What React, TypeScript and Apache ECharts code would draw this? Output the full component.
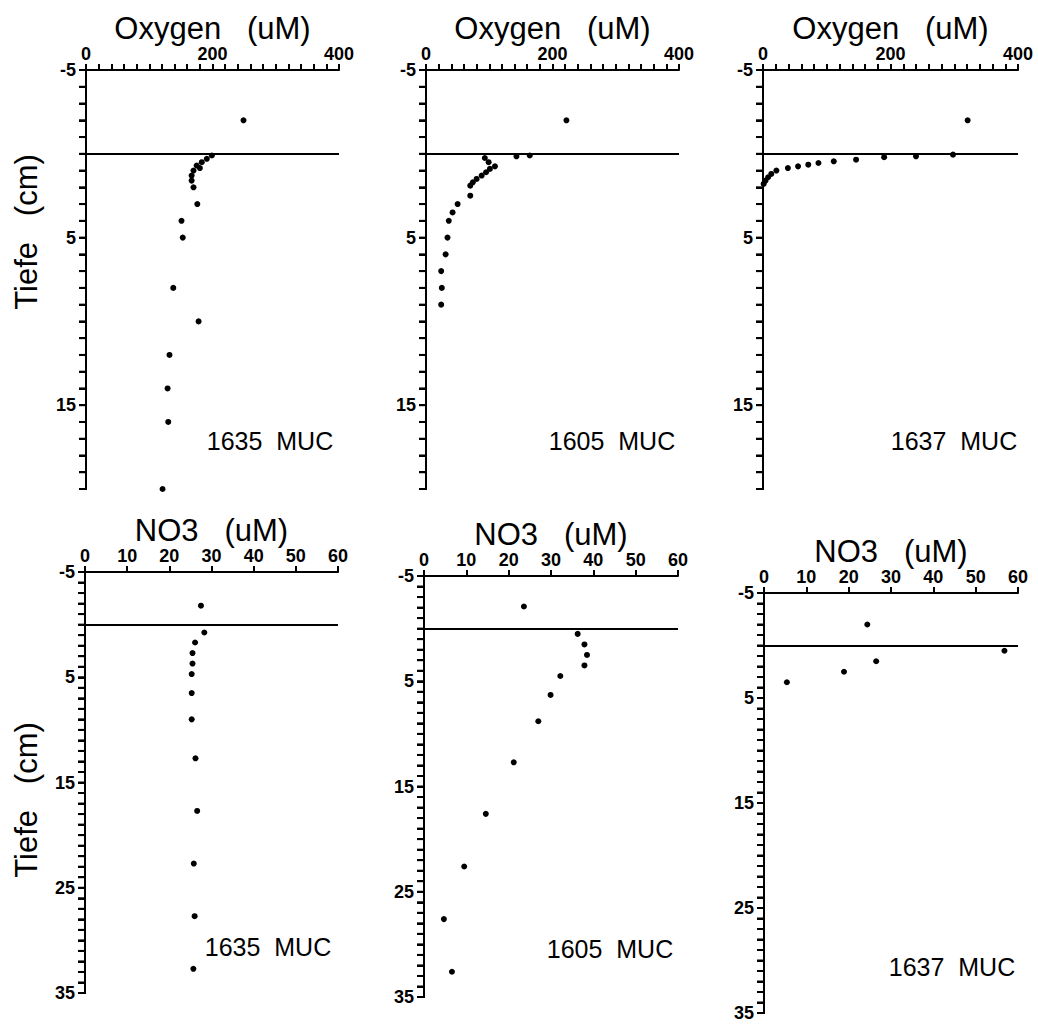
import React, { useEffect, useRef } from 'react';
import * as echarts from 'echarts';

// ---------- data ----------
// Oxygen profiles (uM) vs depth (cm)
const o2Depth1635 = [-2, 0.1, 0.3, 0.5, 0.7, 0.85, 1.0, 1.3, 1.6, 2.0, 3.0, 4.0, 5.0, 8.0, 10.0, 12.0, 14.0, 16.0, 20.0];
const o2Value1635 = [249, 199, 191, 183, 175, 180, 170, 167, 167, 170, 176, 151, 153, 138, 178, 132, 129, 130, 121];

const o2Depth1605 = [-2, 0.1, 0.15, 0.25, 0.5, 0.75, 0.9, 1.1, 1.3, 1.5, 1.7, 1.9, 2.5, 3.0, 3.5, 4.0, 5.0, 6.0, 7.0, 8.0, 9.0];
const o2Value1605 = [222, 164, 143, 93, 99, 109, 101, 95, 88, 80, 74, 70, 70, 50, 42, 36, 34, 31, 24, 25, 24];

const o2Depth1637 = [-2, 0.05, 0.15, 0.2, 0.35, 0.45, 0.55, 0.65, 0.75, 0.85, 1.0, 1.2, 1.4, 1.6, 1.8];
const o2Value1637 = [321, 298, 240, 190, 146, 111, 87, 71, 55, 39, 21, 13, 8, 4, 1];

// Nitrate profiles (uM) vs depth (cm)
const no3Depth1635 = [-1.8, 0.75, 1.7, 2.7, 3.7, 4.7, 6.5, 9.0, 12.7, 17.7, 22.7, 27.7, 32.7];
const no3Value1635 = [27.5, 28.3, 26.1, 25.5, 25.5, 25.3, 25.3, 25.3, 26.2, 26.6, 25.8, 26.0, 25.7];

const no3Depth1605 = [-2.1, 0.5, 1.5, 2.5, 3.5, 4.5, 6.3, 8.8, 12.7, 17.6, 22.6, 27.6, 32.6];
const no3Value1605 = [23.6, 36.3, 37.9, 38.5, 37.9, 32.2, 29.9, 27.0, 21.2, 14.6, 9.5, 4.7, 6.6];

const no3Depth1637 = [-2, 0.5, 1.5, 2.5, 3.5];
const no3Value1637 = [24.4, 56.8, 26.5, 18.9, 5.4];

// tick labels
const o2TickLabels = [0, 200, 400];
const no3TickLabels = [0, 10, 20, 30, 40, 50, 60];
const depthTickLabelsTop = [-5, 5, 15];
const depthTickLabelsBottom = [-5, 5, 15, 25, 35];
const depthTickStep = 1; // one depth tick per cm

const stations = ['1635  MUC', '1605  MUC', '1637  MUC'];
const o2Title = 'Oxygen   (uM)';
const no3Title = 'NO3   (uM)';
const depthTitle = 'Tiefe   (cm)';
const interfaceDepth = 0;

// ---------- layout ----------
const FONT = "'Liberation Sans', Arial, Helvetica, sans-serif";
const TICK_LEN = 7;

const grids = [
  { left: 86, top: 70, width: 253, height: 419 },
  { left: 426, top: 70, width: 253, height: 419 },
  { left: 763, top: 70, width: 255, height: 419 },
  { left: 85, top: 572, width: 253, height: 421 },
  { left: 424, top: 576, width: 254, height: 421 },
  { left: 764, top: 593, width: 254, height: 420 },
];

const stationLabelPos = [
  [270, 441], [612, 441], [954, 441],
  [268, 947], [610, 949], [952, 967],
];

const depthTitlePos = [[26, 232], [26, 800]];

type Panel = {
  title: string;
  xMax: number;
  xStep: number;
  xLabels: number[];
  yMax: number;
  yLabels: number[];
  depth: number[];
  values: number[];
  station: string;
};

const panels: Panel[] = [
  { title: o2Title, xMax: 400, xStep: 20, xLabels: o2TickLabels, yMax: 20, yLabels: depthTickLabelsTop, depth: o2Depth1635, values: o2Value1635, station: stations[0] },
  { title: o2Title, xMax: 400, xStep: 20, xLabels: o2TickLabels, yMax: 20, yLabels: depthTickLabelsTop, depth: o2Depth1605, values: o2Value1605, station: stations[1] },
  { title: o2Title, xMax: 400, xStep: 20, xLabels: o2TickLabels, yMax: 20, yLabels: depthTickLabelsTop, depth: o2Depth1637, values: o2Value1637, station: stations[2] },
  { title: no3Title, xMax: 60, xStep: 10, xLabels: no3TickLabels, yMax: 35, yLabels: depthTickLabelsBottom, depth: no3Depth1635, values: no3Value1635, station: stations[0] },
  { title: no3Title, xMax: 60, xStep: 10, xLabels: no3TickLabels, yMax: 35, yLabels: depthTickLabelsBottom, depth: no3Depth1605, values: no3Value1605, station: stations[1] },
  { title: no3Title, xMax: 60, xStep: 10, xLabels: no3TickLabels, yMax: 35, yLabels: depthTickLabelsBottom, depth: no3Depth1637, values: no3Value1637, station: stations[2] },
];

// depth is plotted downward: the y axis holds -depth
const toAxis = (d: number) => (d === 0 ? 0 : -d);

const black = '#000';

function textGraphics() {
  return [
    ...panels.map((p, i) => ({
      type: 'text',
      x: stationLabelPos[i][0],
      y: stationLabelPos[i][1],
      style: {
        text: p.station,
        fontSize: 25,
        fontFamily: FONT,
        fill: black,
        textAlign: 'center',
        textVerticalAlign: 'middle',
      },
    })),
    ...depthTitlePos.map((pos) => ({
      type: 'text',
      x: pos[0],
      y: pos[1],
      rotation: Math.PI / 2,
      style: {
        text: depthTitle,
        fontSize: 31,
        fontFamily: FONT,
        fill: black,
        textAlign: 'center',
        textVerticalAlign: 'middle',
      },
    })),
  ];
}

function buildOption() {
  const tickStyle = { color: black, width: 2 };
  return {
    animation: false,
    backgroundColor: '#ffffff',
    grid: grids.map((g) => ({ ...g, containLabel: false, outerBoundsMode: 'none', show: false })),
    xAxis: panels.map((p, i) => ({
      gridIndex: i,
      type: 'value',
      position: 'top',
      min: 0,
      max: p.xMax,
      interval: p.xStep,
      name: p.title,
      nameLocation: 'middle',
      nameGap: 26,
      nameTextStyle: { fontSize: 31, fontFamily: FONT, color: black },
      axisLine: { show: true, onZero: false, lineStyle: { color: black, width: 2 } },
      axisTick: { show: true, inside: false, length: 6, lineStyle: tickStyle },
      axisLabel: {
        show: true,
        margin: 7,
        fontSize: 18,
        fontWeight: 'bold',
        fontFamily: FONT,
        color: black,
        formatter: (v: number) => (p.xLabels.indexOf(v) >= 0 ? String(v) : ''),
      },
      splitLine: { show: false },
    })),
    yAxis: panels.map((p, i) => ({
      gridIndex: i,
      type: 'value',
      position: 'left',
      min: -p.yMax,
      max: 5,
      interval: 5,
      axisLine: { show: true, onZero: false, lineStyle: { color: black, width: 2 } },
      axisTick: { show: true, inside: false, length: TICK_LEN, lineStyle: tickStyle },
      minorTick: { show: true, splitNumber: 5, length: TICK_LEN, lineStyle: tickStyle },
      axisLabel: {
        show: true,
        margin: 10,
        fontSize: 18,
        fontWeight: 'bold',
        fontFamily: FONT,
        color: black,
        formatter: (v: number) => {
          const d = toAxis(v);
          return p.yLabels.indexOf(d) >= 0 ? String(d) : '';
        },
      },
      splitLine: { show: false },
      minorSplitLine: { show: false },
    })),
    series: panels.map((p, i) => ({
      type: 'scatter',
      xAxisIndex: i,
      yAxisIndex: i,
      symbol: 'circle',
      symbolSize: 6,
      itemStyle: { color: black, opacity: 1 },
      data: p.values.map((v, k) => [v, toAxis(p.depth[k])]),
      markLine: {
        silent: true,
        symbol: ['none', 'none'],
        label: { show: false },
        lineStyle: { color: black, width: 2, type: 'solid', opacity: 1 },
        data: [{ yAxis: toAxis(interfaceDepth) }],
      },
    })),
    graphic: textGraphics(),
  };
}

// depth tick marks placed through each panel's own y scale
function depthTickGraphics(chart: any) {
  const els: any[] = [];
  panels.forEach((p, i) => {
    for (let d = -5; d <= p.yMax; d += depthTickStep) {
      const pt = chart.convertToPixel({ seriesIndex: i }, [0, toAxis(d)]);
      if (!pt || !isFinite(pt[0]) || !isFinite(pt[1])) continue;
      els.push({
        type: 'line',
        silent: true,
        z: 100,
        shape: { x1: pt[0] - TICK_LEN, y1: pt[1], x2: pt[0] + 1, y2: pt[1] },
        style: { stroke: black, lineWidth: 2 },
      });
    }
  });
  return els;
}

export default function App() {
  const ref = useRef<HTMLDivElement>(null);
  useEffect(() => {
    if (!ref.current) return;
    const chart = echarts.init(ref.current, null, { renderer: 'svg' });
    chart.setOption(buildOption() as any);
    chart.setOption({ graphic: [...textGraphics(), ...depthTickGraphics(chart)] } as any);
    return () => {
      chart.dispose();
    };
  }, []);
  return (
    <div
      ref={ref}
      style={{ position: 'absolute', left: 0, top: 0, width: 1038, height: 1027, background: '#fff' }}
    />
  );
}
